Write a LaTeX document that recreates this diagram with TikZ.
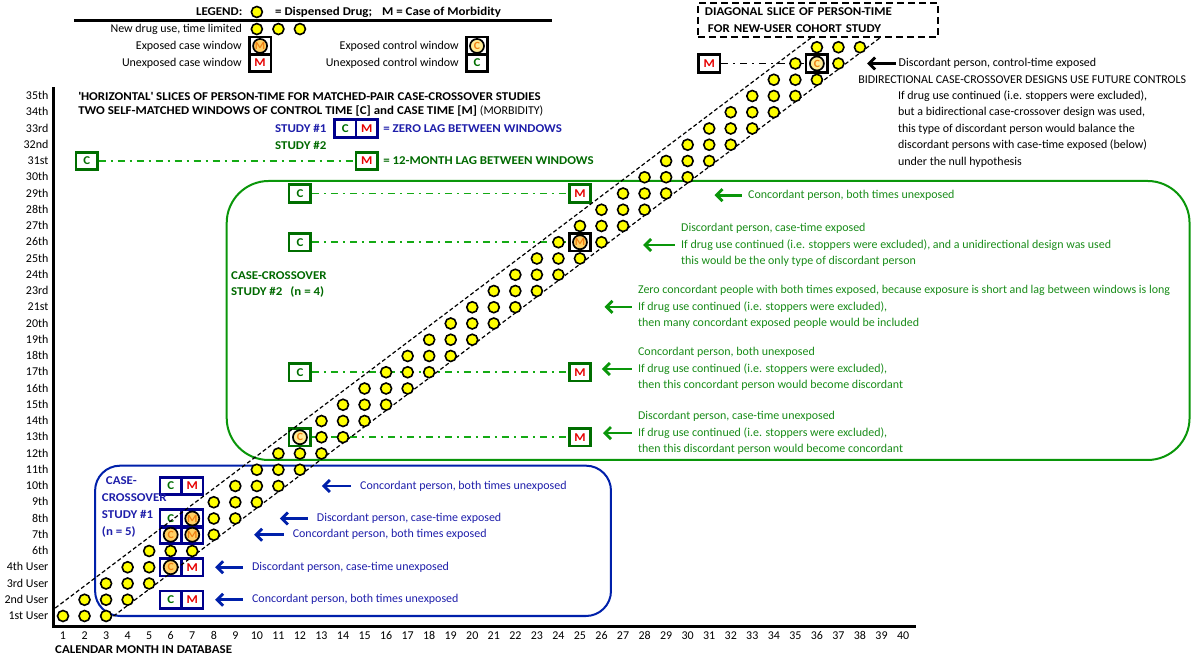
\documentclass[tikz,border=0pt]{standalone}
\usepackage{fontspec}
\setmainfont{Carlito}[BoldFeatures={FakeStretch=1.08}]
\usetikzlibrary{arrows.meta}

\definecolor{drugyellow}{RGB}{255,255,0}
\definecolor{casefill}{RGB}{255,208,100}
\definecolor{ctlfill}{RGB}{255,236,150}
\definecolor{expletter}{RGB}{240,130,20}
\definecolor{cgreen}{RGB}{0,110,0}
\definecolor{mred}{RGB}{230,0,0}
\definecolor{navybox}{RGB}{0,0,140}
\definecolor{studyblue}{RGB}{30,30,170}
\definecolor{boxblue}{RGB}{0,32,170}
\definecolor{studygreen}{RGB}{0,105,0}
\definecolor{notegreen}{RGB}{25,140,25}
\definecolor{boxgreen}{RGB}{10,150,10}
\definecolor{laggreen}{RGB}{20,170,20}

\begin{document}
\begin{tikzpicture}[x=21.54bp, y=16.25bp,
    every node/.style={inner sep=0pt, font=\fontsize{12}{14}\selectfont},
    boldtxt/.style={font=\fontsize{12}{14}\selectfont\bfseries},
    dot/.style={circle, draw, line width=1.6bp, fill=drugyellow, minimum size=11bp},
    expdot/.style={circle, draw, line width=1.7bp, fill=casefill, text=expletter,
      minimum size=14bp, font=\fontsize{11}{13}\selectfont\bfseries},
    ctldot/.style={expdot, fill=ctlfill},
    win/.style={draw, line width=2.6bp, minimum width=21.5bp, minimum height=17.5bp,
      font=\fontsize{12}{14}\selectfont\bfseries},
    cwin/.style={win, text=cgreen},
    mwin/.style={win, text=mred},
    lagline/.style={draw=laggreen, line width=1.6bp, dash pattern=on 7bp off 5bp on 2bp off 5bp},
    band/.style={line width=1.2bp, dash pattern=on 4bp off 2.5bp},
    ptr/.style={-{Straight Barb[length=6bp,width=12bp]}, line width=2.8bp},
    bluenote/.style={anchor=west, text=studyblue},
    greennote/.style={anchor=west, text=notegreen, align=left, font=\fontsize{12}{16.5}\selectfont},
    slicebox/.style={draw, line width=2.5bp, dash pattern=on 7bp off 4bp, minimum width=240bp,
      minimum height=34bp, text width=226bp, align=left, font=\fontsize{12}{17}\selectfont\bfseries}]
\useasboundingbox (-41.46bp,-41bp) rectangle (1153.54bp,616bp);

% study frames
\draw[boxgreen, line width=2bp, rounded corners=42bp] (8.6,9.6) rectangle (53.3,26.77); % study #2
\draw[boxblue, line width=2bp, rounded corners=25bp] (2.49,0) rectangle (26.44,9.25); % study #1

% axes
\coordinate (ytop) at (0.58,32.55);
\coordinate (corner) at (0.58,-0.62);
\coordinate (xend) at (40.6,-0.62);
\draw[line width=3bp] (ytop) -- (corner) -- (xend);
\foreach \lab [count=\r from 0] in {1st User,2nd User,3rd User,4th User,6th,7th,8th,9th,10th,11th,12th,13th,14th,15th,16th,17th,18th,19th,20th,21st,23rd,24th,25th,26th,27th,28th,29th,30th,31st,32nd,33rd,34th,35th}
  \node[anchor=base east] (row\r) at (0.33,\r-0.23) {\lab};
\foreach \m in {1,...,40}
  \node[anchor=base] (mon\m) at (\m,-1.46) {\m};
\node[boldtxt, anchor=west] (xlabel) at (0.63,-2.09) {CALENDAR MONTH IN DATABASE};

% legend
\node[boldtxt, anchor=west] (legend) at (7.17,37.17) {LEGEND:};
\node[dot] (legdot) at (10,37.17) {};
\node[boldtxt, anchor=west] (legtext) at (10.84,37.17) {= Dispensed Drug;\hspace{10bp}M = Case of Morbidity};
\coordinate (ruleL) at (1.51,36.63);
\coordinate (ruleR) at (23.7,36.63);
\draw[line width=3bp] (ruleL) -- (ruleR);
\node[anchor=east] (lnew) at (9.31,36.12) {New drug use, time limited};
\foreach \m in {10,11,12}
  \node[dot] (ld\m) at (\m,36.12) {};
\node[anchor=east] (lexc) at (9.31,35.08) {Exposed case window};
\node[win] (lexcbox) at (10.15,35.08) {};
\node[anchor=east] (lunc) at (9.31,34.03) {Unexposed case window};
\node[mwin] (luncbox) at (10.15,34.03) {M};
\node[anchor=east] (lexk) at (19.38,35.08) {Exposed control window};
\node[win] (lexkbox) at (20.22,35.08) {};
\node[anchor=east] (lunk) at (19.38,34.03) {Unexposed control window};
\node[cwin] (lunkbox) at (20.22,34.03) {C};

% titles
\node[boldtxt, anchor=west] (title1) at (1.70,32) {\textquotesingle HORIZONTAL\textquotesingle\ SLICES OF PERSON-TIME FOR MATCHED-PAIR CASE-CROSSOVER STUDIES};
\node[boldtxt, anchor=west] (title2) at (1.70,31.05) {TWO SELF-MATCHED WINDOWS OF CONTROL TIME [C] and CASE TIME [M] {\mdseries (MORBIDITY)}};
\node[boldtxt, text=studyblue, anchor=west] (s1lab) at (10.84,30) {STUDY \#1};
\node[cwin, draw=navybox] (s1c) at (14.1,30) {C};
\node[mwin, draw=navybox] (s1m) at (15.1,30) {M};
\node[boldtxt, text=studyblue, anchor=west] (s1lag) at (15.86,30) {= ZERO LAG BETWEEN WINDOWS};
\node[boldtxt, text=studygreen, anchor=west] (s2lab) at (10.84,28.95) {STUDY \#2};
\node[cwin, draw=cgreen] (s2c) at (2.1,28) {C};
\node[mwin, draw=cgreen] (s2m) at (15.1,28) {M};
\node[boldtxt, text=studygreen, anchor=west] (s2lag) at (15.86,28) {= 12-MONTH LAG BETWEEN WINDOWS};
\draw[lagline] (s2c) -- (s2m);

% study #1 windows (zero lag)
\node[cwin, draw=navybox] (c8) at (6,8) {C};
\node[mwin, draw=navybox] (m8) at (7,8) {M};
\node[cwin, draw=navybox] (c6) at (6,6) {C};
\node[win, draw=navybox] (m6) at (7,6) {};
\node[win, draw=navybox] (c5) at (6,5) {};
\node[win, draw=navybox] (m5) at (7,5) {};
\node[win, draw=navybox] (c3) at (6,3) {};
\node[mwin, draw=navybox] (m3) at (7,3) {M};
\node[cwin, draw=navybox] (c1) at (6,1) {C};
\node[mwin, draw=navybox] (m1) at (7,1) {M};

% study #2 windows (12-month lag)
\node[cwin, draw=cgreen] (c26) at (12,26) {C};
\node[mwin, draw=cgreen] (m26) at (25,26) {M};
\node[cwin, draw=cgreen] (c23) at (12,23) {C};
\node[win] (m23) at (25,23) {};
\node[cwin, draw=cgreen] (c15) at (12,15) {C};
\node[mwin, draw=cgreen] (m15) at (25,15) {M};
\node[win, draw=cgreen] (c11) at (12,11) {};
\node[mwin, draw=cgreen] (m11) at (25,11) {M};
\foreach \r in {26,23,15,11}
  \draw[lagline] (c\r) -- (m\r);

% future control
\node[mwin] (m34) at (31,34) {M};
\node[win] (c34) at (36,34) {};
\draw[lagline, draw=black] (m34) -- (c34);

% diagonal band of person-time
\coordinate (bandA0) at (0.64,0.49);
\coordinate (bandA1) at (35.75,35.6);
\coordinate (bandB0) at (3.1,-0.25);
\coordinate (bandB1) at (38.95,35.6);
\draw[band] (bandA0) -- (bandA1);
\draw[band] (bandB0) -- (bandB1);
\node[slicebox] (slice) at (36.05,36.68) {DIAGONAL SLICE OF PERSON-TIME\\\hspace{3bp}FOR NEW-USER COHORT STUDY};

% dispensed drug, three months per person
\foreach \r in {0,...,35}
  \foreach \k in {1,2,3}
    \node[dot] (d-\r-\k) at (\r+\k,\r) {};

% exposed windows
\node[expdot] at (lexcbox) {M};
\node[ctldot] at (lexkbox) {C};
\node[expdot] at (m6) {M};
\node[expdot] at (c5) {C};
\node[expdot] at (m5) {M};
\node[expdot] at (c3) {C};
\node[expdot] at (m23) {M};
\node[ctldot] at (c11) {C};
\node[ctldot] at (c34) {C};

% study #1 notes
\node[boldtxt, text=studyblue, align=left, anchor=west, font=\fontsize{12}{17.3}\selectfont\bfseries] (s1name) at (2.8,6.7) {\hspace{4bp}CASE-\\CROSSOVER\\STUDY \#1\\(n = 5)};
\node[bluenote] (b8) at (14.79,8) {Concordant person, both times unexposed};
\node[bluenote] (b6) at (12.78,6) {Discordant person, case-time exposed};
\node[bluenote] (b5) at (11.66,5) {Concordant person, both times exposed};
\node[bluenote] (b3) at (9.77,3) {Discordant person, case-time unexposed};
\node[bluenote] (b1) at (9.77,1) {Concordant person, both times unexposed};
\coordinate (tb8) at (13.02,8);
\coordinate (tb6) at (11.07,6);
\coordinate (tb5) at (9.87,5);
\coordinate (tb3) at (8.06,3);
\coordinate (tb1) at (8.06,1);
\foreach \r in {8,6,5,3,1}
  \draw[ptr, draw=boxblue] ([xshift=-9bp]b\r.west) -- (tb\r);

% study #2 notes
\node[boldtxt, text=studygreen, align=left, anchor=west, font=\fontsize{12}{15.5}\selectfont\bfseries] (s2name) at (8.8,20.4) {CASE-CROSSOVER\\STUDY \#2\hspace{8bp}(n = 4)};
\node[greennote] (g26) at (32.8,25.9) {Concordant person, both times unexposed};
\node[greennote] (g23) at (29.69,22.83) {Discordant person, case-time exposed\\If drug use continued (i.e. stoppers were excluded), and a unidirectional design was used\\this would be the only type of discordant person};
\node[greennote] (g19) at (27.69,19.02) {Zero concordant people with both times exposed, because exposure is short and lag between windows is long\\If drug use continued (i.e. stoppers were excluded),\\then many concordant exposed people would be included};
\node[greennote] (g15) at (27.69,15.2) {Concordant person, both unexposed\\If drug use continued (i.e. stoppers were excluded),\\then this concordant person would become discordant};
\node[greennote] (g11) at (27.69,11.26) {Discordant person, case-time unexposed\\If drug use continued (i.e. stoppers were excluded),\\then this discordant person would become concordant};
\coordinate (tg26) at (31.25,25.9);
\coordinate (tg23) at (27.93,22.83);
\coordinate (tg19) at (26.14,19.02);
\coordinate (tg15) at (26.02,15.2);
\coordinate (tg11) at (26.07,11.26);
\foreach \r in {26,23,19,15,11}
  \draw[ptr, draw=boxgreen] ([xshift=-6bp]g\r.west) -- (tg\r);

% bidirectional note
\node[anchor=west] (k34) at (39.79,34) {Discordant person, control-time exposed};
\coordinate (tk34) at (38.33,34);
\draw[ptr] ([xshift=-3bp]k34.west) -- (tk34);
\node[anchor=west] (bidir) at (37.91,33) {BIDIRECTIONAL CASE-CROSSOVER DESIGNS USE FUTURE CONTROLS};
\node[anchor=west, align=left, font=\fontsize{12}{16.5}\selectfont] (bidirnote) at (39.76,29.97) {If drug use continued (i.e. stoppers were excluded),\\but a bidirectional case-crossover design was used,\\this type of discordant person would balance the\\discordant persons with case-time exposed (below)\\under the null hypothesis};
\end{tikzpicture}
\end{document}
